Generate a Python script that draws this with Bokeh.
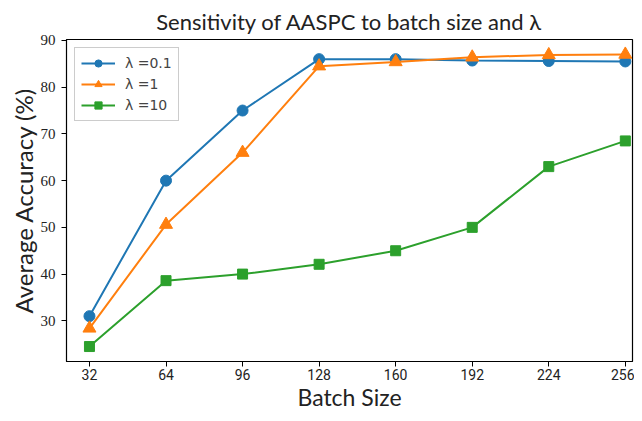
from bokeh.plotting import figure
from bokeh.models import Range1d, FixedTicker, Legend, LegendItem
from bokeh.embed import file_html
from bokeh.resources import INLINE

batch_sizes = [32, 64, 96, 128, 160, 192, 224, 256]
acc_l01 = [31.0, 60.0, 75.0, 86.0, 86.0, 85.7, 85.6, 85.5]
acc_l1 = [28.4, 50.6, 66.0, 84.5, 85.4, 86.4, 86.9, 87.0]
acc_l10 = [24.5, 38.6, 40.0, 42.1, 45.0, 50.0, 63.0, 68.5]
labels = ["λ =0.1", "λ =1", "λ =10"]
x_ticks = [32, 64, 96, 128, 160, 192, 224, 256]
y_ticks = [30, 40, 50, 60, 70, 80, 90]

p = figure(width=634, height=413, output_backend="svg", toolbar_location=None,
           x_range=Range1d(22.4, 259.0), y_range=Range1d(21.3, 90.2),
           min_border_left=66, min_border_right=2, min_border_top=38, min_border_bottom=0)

p.title.text = "Sensitivity of AASPC to batch size and λ"
p.title.align = "center"
p.title.text_font = "Lato"
p.title.text_font_size = "22px"
p.title.text_font_style = "normal"
p.title.text_color = "#222222"

p.xgrid.visible = False
p.ygrid.visible = False
p.outline_line_color = "black"
p.outline_line_width = 1.2

p.xaxis.ticker = FixedTicker(ticks=x_ticks)
p.yaxis.ticker = FixedTicker(ticks=y_ticks)
for ax in (p.xaxis[0], p.yaxis[0]):
    ax.major_tick_out = 5
    ax.major_tick_in = 0
    ax.minor_tick_out = 0
    ax.minor_tick_in = 0
    ax.axis_line_color = "black"
    ax.major_tick_line_color = "black"
    ax.major_label_text_color = "#222222"
    ax.axis_label_text_font_style = "normal"
    ax.axis_label_text_color = "#222222"

p.xaxis.axis_label = "Batch Size"
p.xaxis.axis_label_text_font = "Lato"
p.xaxis.axis_label_text_font_size = "23px"
p.xaxis.major_label_text_font = "Roboto"
p.xaxis.major_label_text_font_size = "14px"
p.xaxis.major_label_standoff = 2
p.xaxis.axis_label_standoff = 0

p.yaxis.axis_label = "Average Accuracy (%)"
p.yaxis.axis_label_text_font = "Lato"
p.yaxis.axis_label_text_font_size = "24px"
p.yaxis.major_label_text_font = "Liberation Serif"
p.yaxis.major_label_text_font_size = "15px"
p.yaxis.major_label_standoff = 6
p.yaxis.axis_label_standoff = 0

c1, c2, c3 = "#1f77b4", "#ff7f0e", "#2ca02c"
l1 = p.line(batch_sizes, acc_l01, line_color=c1, line_width=2)
m1 = p.scatter(batch_sizes, acc_l01, marker="circle", size=11, fill_color=c1, line_color=c1)
l2 = p.line(batch_sizes, acc_l1, line_color=c2, line_width=2)
m2 = p.scatter(batch_sizes, acc_l1, marker="triangle", size=13, fill_color=c2, line_color=c2)
l3 = p.line(batch_sizes, acc_l10, line_color=c3, line_width=2)
m3 = p.scatter(batch_sizes, acc_l10, marker="square", size=10, fill_color=c3, line_color=c3)

legend = Legend(items=[LegendItem(label=labels[0], renderers=[l1, m1]),
                       LegendItem(label=labels[1], renderers=[l2, m2]),
                       LegendItem(label=labels[2], renderers=[l3, m3])],
                location="top_left")
legend.border_line_color = "#cccccc"
legend.border_line_alpha = 1
legend.background_fill_alpha = 0.85
legend.label_text_font = "DejaVu Sans"
legend.label_text_font_size = "14px"
legend.glyph_width = 34
legend.glyph_height = 18
legend.label_height = 18
legend.spacing = 3
legend.padding = 6
legend.margin = 8
legend.label_standoff = 10
p.add_layout(legend)

open("out.html", "w").write(file_html(p, INLINE))
